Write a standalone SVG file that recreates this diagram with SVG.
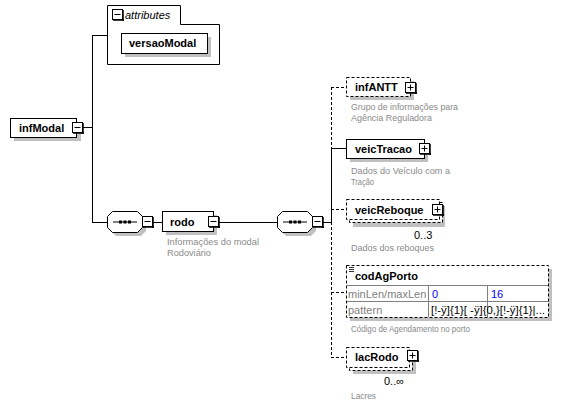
<svg xmlns="http://www.w3.org/2000/svg" width="562" height="409" viewBox="0 0 562 409">
<style>
.bg{fill:#fff}
.box{fill:#fff;stroke:#000;stroke-width:1}
.dbox{fill:#fff;stroke:#000;stroke-width:1;stroke-dasharray:3,2}
.sh{fill:#c0c0c0}
.ln{fill:none;stroke:#000;stroke-width:1}
.dln{fill:none;stroke:#000;stroke-width:1;stroke-dasharray:3,2}
.lbl{font-family:"Liberation Sans",Arial,sans-serif;font-weight:bold;font-size:11px;fill:#000}
.desc{font-family:"Liberation Sans",Arial,sans-serif;font-size:9.5px;fill:#8a8a8a}
.occ{font-family:"Liberation Sans",Arial,sans-serif;font-size:11px;fill:#000}
.cell{font-family:"Liberation Sans",Arial,sans-serif;font-size:11px}
.btn{fill:#fff;stroke:#000;stroke-width:1}
</style>
<defs>
<g id="minus"><rect class="btn" x="0.5" y="0.5" width="10" height="10"/><path d="M2.5 5.5h6" stroke="#000"/><path d="M11 1v11M1 11h11" stroke="#000" stroke-width="1.5"/></g>
<g id="plus"><rect class="btn" x="0.5" y="0.5" width="10" height="10"/><path d="M2.5 5.5h6M5.5 2.5v6" stroke="#000"/><path d="M11 1v11M1 11h11" stroke="#000" stroke-width="1.5"/></g>
<g id="seq">
<path class="sh" d="M9 4h25l5 5v11l-5 5h-25l-5-5v-11z"/>
<path class="box" d="M5.5 0.5h25l5 5v11l-5 5h-25l-5-5v-11z"/>
<path d="M6 11h24" stroke="#000"/>
<rect x="12" y="9.5" width="3" height="3" fill="#000"/><rect x="16.5" y="9.5" width="3" height="3" fill="#000"/><rect x="21" y="9.5" width="3" height="3" fill="#000"/>
</g>
</defs>
<rect class="bg" width="562" height="409"/>

<g id="connectors">
<path class="ln" d="M83 127.5h9.5M92.5 35v187M92 35.5h15M92 222.5h15M153 222.5h9M218 222.5h59M322 222.5h9"/>
<path class="dln" d="M331.5 87v61"/>
<path class="ln" d="M331.5 148v74"/>
<path class="dln" d="M331.5 222v135"/>
<path class="dln" d="M331 87.5h15"/>
<path class="ln" d="M331 148.5h15"/>
<path class="dln" d="M331 209.5h15"/>
<path class="dln" d="M331 292.5h15"/>
<path class="dln" d="M331 357.5h15"/>
</g>

<g id="infModal">
<rect class="sh" x="14" y="122" width="67" height="19"/>
<rect class="box" x="10.5" y="118.5" width="66" height="19"/>
<text class="lbl" x="19" y="132">infModal</text>
<use href="#minus" x="72" y="122"/>
</g>

<g id="attributes">
<path class="box" d="M107.5 5.5h73v19h39v40h-112z"/>
<use href="#minus" x="112" y="9"/>
<text x="125" y="19" font-family="Liberation Sans,Arial,sans-serif" font-style="italic" font-size="11px">attributes</text>
</g>

<g id="versaoModal">
<rect class="sh" x="125" y="37" width="86" height="20"/>
<rect class="box" x="121.5" y="33.5" width="86" height="20"/>
<text class="lbl" x="129" y="47">versaoModal</text>
</g>

<g id="seq1"><use href="#seq" x="107" y="211"/><use href="#minus" x="142" y="216"/></g>

<g id="rodo">
<rect class="sh" x="166" y="215" width="51" height="20"/>
<rect class="box" x="162.5" y="211.5" width="51" height="20"/>
<text class="lbl" x="170" y="226">rodo</text>
<use href="#minus" x="208" y="216"/>
<text class="desc" x="167" y="245" textLength="92" lengthAdjust="spacingAndGlyphs">Informações do modal</text>
<text class="desc" x="167" y="256" textLength="44" lengthAdjust="spacingAndGlyphs">Rodoviário</text>
</g>

<g id="seq2"><use href="#seq" x="277" y="211"/><use href="#minus" x="312" y="216"/></g>

<g id="infANTT">
<rect class="sh" x="350" y="81" width="64" height="19"/>
<rect class="dbox" x="346.5" y="77.5" width="64" height="19"/>
<text class="lbl" x="355" y="91">infANTT</text>
<use href="#plus" x="405" y="82"/>
<text class="desc" x="351" y="110" textLength="107" lengthAdjust="spacingAndGlyphs">Grupo de informações para</text>
<text class="desc" x="351" y="121" textLength="81" lengthAdjust="spacingAndGlyphs">Agência Reguladora</text>
</g>

<g id="veicTracao">
<rect class="sh" x="350" y="143" width="78" height="19"/>
<rect class="box" x="346.5" y="139.5" width="78" height="19"/>
<text class="lbl" x="355" y="153">veicTracao</text>
<use href="#plus" x="419" y="143"/>
<text class="desc" x="351" y="174" textLength="99" lengthAdjust="spacingAndGlyphs">Dados do Veículo com a</text>
<text class="desc" x="351" y="185" textLength="23" lengthAdjust="spacingAndGlyphs">Tração</text>
</g>

<g id="veicReboque">
<rect class="sh" x="353" y="206" width="92" height="21"/>
<rect class="dbox" x="349.5" y="202.5" width="93" height="20"/>
<rect class="dbox" x="346.5" y="199.5" width="93" height="20"/>
<text class="lbl" x="355" y="214">veicReboque</text>
<use href="#plus" x="432" y="204"/>
<text class="occ" x="414" y="239">0..3</text>
<text class="desc" x="351" y="251" textLength="83" lengthAdjust="spacingAndGlyphs">Dados dos reboques</text>
</g>

<g id="codAgPorto">
<rect class="sh" x="350" y="269" width="202" height="52"/>
<rect class="dbox" x="346.5" y="265.5" width="202" height="52"/>
<path d="M347 285.5h201M347 301.5h201M428.5 286v31M487.5 286v31" stroke="#808080" fill="none"/>
<path d="M349 267.5h5M349 269.5h5M349 271.5h5" stroke="#000" stroke-width="0.8"/>
<text class="lbl" x="355" y="280">codAgPorto</text>
<text class="cell" x="348" y="298" fill="#808080">minLen/maxLen</text>
<text class="cell" x="432" y="298" fill="#0000ff">0</text>
<text class="cell" x="491" y="298" fill="#0000ff">16</text>
<text class="cell" x="348" y="314" fill="#808080">pattern</text>
<text class="cell" x="431" y="314" fill="#000" textLength="114" lengthAdjust="spacingAndGlyphs">[!-ÿ]{1}[ -ÿ]{0,}[!-ÿ]{1}|...</text>
<text class="desc" x="351" y="332" textLength="119" lengthAdjust="spacingAndGlyphs">Código de Agendamento no porto</text>
</g>

<g id="lacRodo">
<rect class="sh" x="353" y="354" width="63" height="20"/>
<rect class="dbox" x="349.5" y="350.5" width="63" height="20"/>
<rect class="dbox" x="346.5" y="347.5" width="63" height="20"/>
<text class="lbl" x="355" y="361">lacRodo</text>
<use href="#plus" x="407" y="350"/>
<text class="occ" x="384" y="385">0..∞</text>
<text class="desc" x="351" y="399" textLength="25" lengthAdjust="spacingAndGlyphs">Lacres</text>
</g>
</svg>
